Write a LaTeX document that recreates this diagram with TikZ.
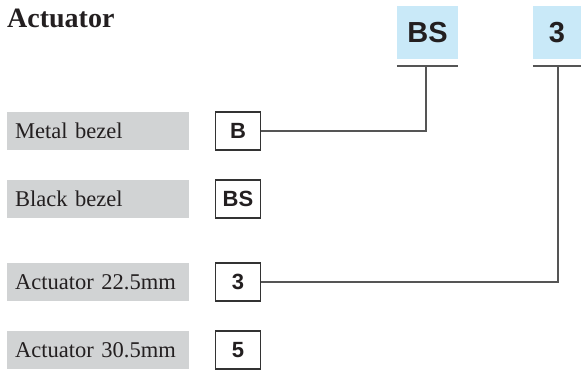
\documentclass[tikz,border=0pt]{standalone}
\usepackage{fontspec}
\setmainfont{Liberation Serif}
\setsansfont{Liberation Sans}
\usetikzlibrary{positioning}
\definecolor{optgray}{HTML}{D1D3D4}
\definecolor{headblue}{HTML}{C9E9F8}
\definecolor{linegray}{HTML}{555555}
\definecolor{boxgray}{HTML}{333333}
\definecolor{inkblack}{HTML}{231F20}
\tikzset{
        % Title
        node_title/.style={anchor=base west, inner sep=0pt, text=inkblack, font=\bfseries\fontsize{28}{30}\selectfont},
        % Option labels
        node_option/.style={anchor=west, fill=optgray, inner xsep=8pt, inner ysep=0pt, text width=166pt, minimum height=38pt, align=left, text=inkblack, font=\fontsize{22.5}{24}\selectfont},
        % Code boxes
        node_code/.style={draw=boxgray, line width=1.2pt, fill=white, minimum width=45pt, minimum height=38pt, inner sep=0pt, text=inkblack, font=\sffamily\bfseries\fontsize{22}{22}\selectfont},
        % Header codes
        node_head/.style={fill=headblue, minimum height=53pt, inner sep=0pt, text=inkblack, font=\sffamily\bfseries\fontsize{29}{29}\selectfont},
        % Connectors
        link/.style={draw=linegray, line width=1.3pt},
        bar/.style={draw=linegray, line width=1.3pt}
}
\begin{document}
\begin{tikzpicture}[x=1pt, y=-1pt]
    \useasboundingbox (0,0) rectangle (581,370);
    \node[node_title] (title) at (7,27) {Actuator};
    % header
    \node[node_head, minimum width=61pt] (head_bs) at (427.5,32.5) {BS};
    \node[node_head, minimum width=48pt] (head_3) at (557,32.5) {3};
    \coordinate (bar_bs) at (426,66);
    \coordinate (bar_3) at (558,66);
    \draw[bar] (head_bs.south west |- bar_bs) -- (head_bs.south east |- bar_bs);
    \draw[bar] (head_3.south west |- bar_3) -- (head_3.south east |- bar_3);
    % options
    \node[node_option] (opt_metal) at (7,131) {Metal bezel};
    \node[node_option] (opt_black) at (7,199) {Black bezel};
    \node[node_option] (opt_22) at (7,282) {Actuator 22.5mm};
    \node[node_option] (opt_30) at (7,350) {Actuator 30.5mm};
    \node[node_code] (code_b) at (238,131) {B};
    \node[node_code] (code_bs) at (238,199) {BS};
    \node[node_code] (code_3) at (238,282) {3};
    \node[node_code] (code_5) at (238,350) {5};
    % connectors
    \draw[link] (code_b.east) -| (bar_bs);
    \draw[link] (code_3.east) -| (bar_3);
\end{tikzpicture}
\end{document}
